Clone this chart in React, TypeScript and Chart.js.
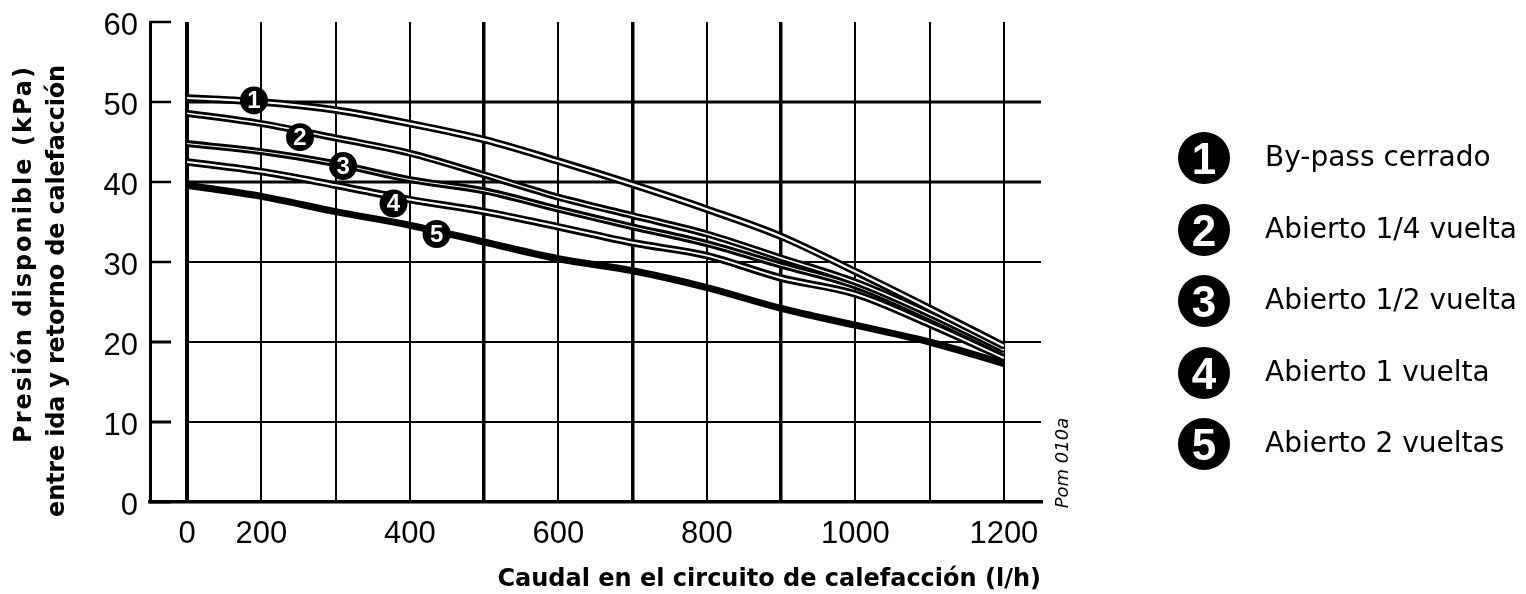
import React, { useEffect, useRef } from 'react';
import { Chart, registerables } from 'chart.js';

Chart.register(...registerables);

// ---- data ----
const categories = ['0', '200', '300', '400', '500', '600', '700', '800', '900', '1000', '1100', '1200'];
const shownXTicks = ['0', '200', '400', '600', '800', '1000', '1200'];
const thickXLines = ['0', '500', '700', '900'];
const yTicks = [0, 10, 20, 30, 40, 50, 60];

const bypassCerrado = [50.5, 50.0, 49.0, 47.3, 45.3, 42.6, 39.7, 36.6, 33.2, 28.8, 24.2, 19.5];
const abierto14 = [48.6, 47.3, 45.5, 43.6, 40.9, 38.1, 35.8, 33.5, 30.5, 27.5, 23.5, 19.0];
const abierto12 = [44.8, 43.8, 42.3, 40.3, 38.9, 36.6, 34.4, 32.3, 29.6, 27.0, 23.0, 18.6];
const abierto1 = [42.5, 41.3, 39.6, 37.8, 36.3, 34.4, 32.4, 30.8, 28.0, 26.0, 22.2, 18.0];
const abierto2 = [39.6, 38.2, 36.3, 34.6, 32.5, 30.4, 28.9, 26.8, 24.2, 22.1, 20.0, 17.3];

const seriesLabels = ['By-pass cerrado', 'Abierto 1/4 vuelta', 'Abierto 1/2 vuelta', 'Abierto 1 vuelta', 'Abierto 2 vueltas'];
const seriesNumbers = ['1', '2', '3', '4', '5'];

// where the numbered badges sit on each curve (category index, kPa)
const badgeIndex = [0.9, 1.52, 2.1, 2.78, 3.36];
const badgeValue = [50.2, 45.6, 42.0, 37.3, 33.5];

const yTitleLines = ['Presión disponible (kPa)', 'entre ida y retorno de calefacción'];
const xTitle = 'Caudal en el circuito de calefacción (l/h)';
const codeText = 'Pom 010a';

// ---- styles ----
const allSeries = [bypassCerrado, abierto14, abierto12, abierto1, abierto2];
const outerWidths = [7.5, 7, 7, 7.5, 7];
const innerWidths = [2.2, 1.5, 1, 2, 0];
const yTitleSpacing = ['2px', '-0.2px'];

const framePlugin = {
  id: 'framePlugin',
  beforeDatasetsDraw(chart: any) {
    const { ctx, chartArea, scales } = chart;
    const x = scales.x;
    const y = scales.y;
    const x0 = x.getPixelForValue(0);
    ctx.save();
    ctx.strokeStyle = '#000';
    ctx.lineCap = 'butt';
    yTicks.forEach((v) => {
      const py = y.getPixelForValue(v);
      if (v !== 0 && v !== 60) {
        ctx.lineWidth = v >= 40 ? 3 : 2;
        ctx.beginPath();
        ctx.moveTo(x0, py);
        ctx.lineTo(chartArea.right, py);
        ctx.stroke();
      }
      ctx.lineWidth = v >= 30 ? 2.5 : 3;
      ctx.beginPath();
      ctx.moveTo(chartArea.left, py);
      ctx.lineTo(chartArea.left + 21, py);
      ctx.stroke();
    });
    ctx.restore();
  },
  afterDatasetsDraw(chart: any) {
    const { ctx, scales } = chart;
    const x = scales.x;
    const y = scales.y;
    ctx.save();
    seriesNumbers.forEach((n, i) => {
      const px = x.getPixelForValue(badgeIndex[i]);
      const py = y.getPixelForValue(badgeValue[i]);
      ctx.fillStyle = '#000';
      ctx.beginPath();
      ctx.arc(px, py, 14, 0, Math.PI * 2);
      ctx.fill();
      ctx.fillStyle = '#fff';
      ctx.font = 'bold 24px "Liberation Sans"';
      ctx.textAlign = 'center';
      ctx.textBaseline = 'middle';
      ctx.fillText(n, px, py + 1);
    });
    ctx.restore();
  },
  afterDraw(chart: any) {
    const { ctx } = chart;
    ctx.save();
    ctx.fillStyle = '#000';
    ctx.font = 'bold 24px "DejaVu Sans"';
    ctx.textAlign = 'right';
    ctx.textBaseline = 'middle';
    const lineX = [25, 58];
    yTitleLines.forEach((t, i) => {
      ctx.save();
      (ctx as any).letterSpacing = yTitleSpacing[i];
      ctx.translate(lineX[i], 65);
      ctx.rotate(-Math.PI / 2);
      ctx.fillText(t, 0, 0);
      ctx.restore();
    });
    ctx.font = 'italic 18px "DejaVu Sans"';
    ctx.textAlign = 'center';
    ctx.save();
    ctx.translate(1063, 463);
    ctx.rotate(-Math.PI / 2);
    ctx.fillText(codeText, 0, 0);
    ctx.restore();
    ctx.restore();
  },
};

export default function App() {
  const canvasRef = useRef<HTMLCanvasElement | null>(null);

  useEffect(() => {
    if (!canvasRef.current) return;
    const datasets: any[] = [];
    let drawOrder = 0;
    for (let i = allSeries.length - 1; i >= 0; i--) {
      datasets.push({
        label: seriesLabels[i],
        data: allSeries[i],
        borderColor: '#000',
        borderWidth: outerWidths[i],
        pointRadius: 0,
        fill: false,
        cubicInterpolationMode: 'monotone',
        order: 100 - drawOrder++,
      });
      if (innerWidths[i] > 0) {
        datasets.push({
          label: seriesLabels[i] + ' (inner)',
          data: allSeries[i],
          borderColor: '#fff',
          borderWidth: innerWidths[i],
          pointRadius: 0,
          fill: false,
          cubicInterpolationMode: 'monotone',
          order: 100 - drawOrder++,
        });
      }
    }

    const chart = new Chart(canvasRef.current, {
      type: 'line',
      data: { labels: categories, datasets },
      options: {
        animation: false,
        responsive: false,
        devicePixelRatio: 1,
        layout: { padding: { left: 90, right: 485, top: 22, bottom: 0 } },
        plugins: { legend: { display: false }, tooltip: { enabled: false } },
        scales: {
          x: {
            type: 'category',
            offset: true,
            grid: {
              offset: false,
              color: '#000',
              drawTicks: false,
              lineWidth: (c: any) => {
                const lab = categories[c.index];
                if (lab === '0') return 4;
                return thickXLines.includes(lab) ? 3.5 : 2;
              },
            },
            border: { display: true, color: '#000', width: 3.5 },
            ticks: {
              autoSkip: false,
              maxRotation: 0,
              padding: 14,
              color: '#000',
              font: { family: 'Liberation Sans', size: 31 },
              callback: function (this: any, val: any) {
                const l = this.getLabelForValue(val);
                return shownXTicks.includes(l) ? l : '';
              },
            },
            title: {
              display: true,
              text: xTitle,
              align: 'end',
              color: '#000',
              font: { family: 'DejaVu Sans', weight: 'bold', size: 24 },
              padding: { top: 0, bottom: 0 },
            },
            afterFit: (s: any) => {
              s.height = 92;
              s.paddingLeft = 0;
              s.paddingRight = 0;
            },
          },
          y: {
            min: 0,
            max: 60,
            grid: { display: false, drawTicks: false },
            border: { display: true, color: '#000', width: 3 },
            ticks: {
              stepSize: 10,
              padding: 12,
              labelOffset: 4,
              color: '#000',
              font: { family: 'Liberation Sans', size: 31 },
            },
            afterFit: (s: any) => {
              s.width = 60;
              s.paddingTop = 0;
              s.paddingBottom = 0;
            },
          },
        },
      },
      plugins: [framePlugin],
    } as any);

    return () => chart.destroy();
  }, []);

  return (
    <div style={{ position: 'fixed', left: 0, top: 0, width: 1526, height: 594, background: '#fff', overflow: 'hidden' }}>
      <canvas ref={canvasRef} width={1526} height={594} style={{ position: 'absolute', left: 0, top: 0 }} />
      {seriesLabels.map((lab, i) => (
        <React.Fragment key={lab}>
          <div
            style={{
              position: 'absolute',
              left: 1204 - 26,
              top: 158 + i * 71.5 - 26,
              width: 52,
              height: 52,
              borderRadius: '50%',
              background: '#000',
              color: '#fff',
              fontFamily: '"Liberation Sans", sans-serif',
              fontWeight: 'bold',
              fontSize: 44,
              lineHeight: '54px',
              textAlign: 'center',
            }}
          >
            {seriesNumbers[i]}
          </div>
          <div
            style={{
              position: 'absolute',
              left: 1265,
              top: 157 + i * 71.5 - 20,
              height: 40,
              lineHeight: '40px',
              fontFamily: '"DejaVu Sans", sans-serif',
              fontSize: 28,
              color: '#000',
              whiteSpace: 'nowrap',
            }}
          >
            {lab}
          </div>
        </React.Fragment>
      ))}
    </div>
  );
}
